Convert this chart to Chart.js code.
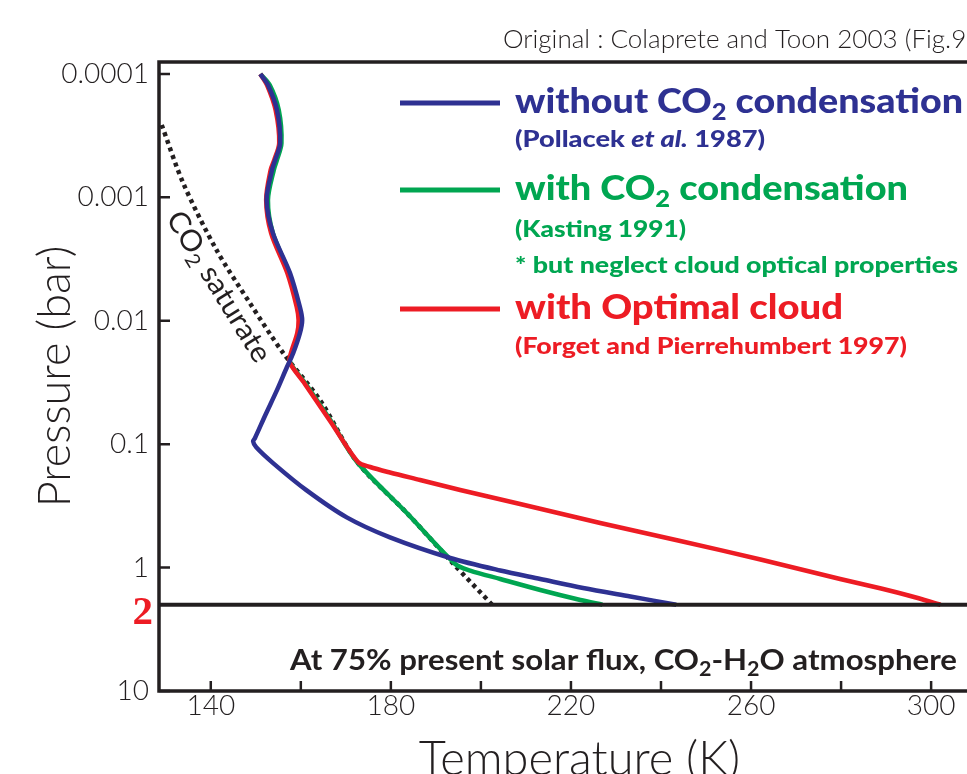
<!DOCTYPE html>
<html>
<head>
<meta charset="utf-8">
<script src="https://cdn.jsdelivr.net/npm/chart.js@4.4.1/dist/chart.umd.min.js"></script>
<style>
html, body { margin:0; padding:0; background:#fff; overflow:hidden; }
#myChartContainer { width:1000px; height:800px; }
</style>
</head>
<body>
<div id="myChartContainer"><canvas id="myChart" width="1000" height="800"></canvas></div>
<script>
// temperature (K) and pressure (bar)
var noCondT = [151.0,152.7,154.7,155.4,154.3,153.6,152.4,153.8,157.6,159.8,160.3,159.8,158.3,156.9,154.7,152.1,149.8,149.4,150.1,153.9,161.3,170.2,179.8,193.2,204.3,213.2,222.7,233.2,243.4];
var noCondP = [1e-4,1.23e-4,1.96e-4,3.63e-4,4.98e-4,6.0e-4,1.05e-3,1.95e-3,4.11e-3,7.76e-3,9.9e-3,0.0126,0.0183,0.0238,0.0365,0.0583,0.0895,0.0946,0.106,0.143,0.237,0.392,0.569,0.836,1.056,1.237,1.463,1.715,2.0];

var condT = [151.0,153.1,155.1,155.7,154.7,154.0,152.7,153.8,157.4,159.5,159.9,159.5,158.0,157.6,161.1,166.7,172.5,183.6,194.3,197.6,204.3,213.2,222.1,227.0];
var condP = [1e-4,1.23e-4,1.96e-4,3.63e-4,4.98e-4,6.0e-4,1.05e-3,1.95e-3,4.11e-3,7.76e-3,9.9e-3,0.0126,0.0183,0.0217,0.0325,0.0649,0.1395,0.363,0.935,1.056,1.237,1.519,1.831,2.0];

var cloudT = [151.0,152.5,154.4,155.2,154.1,153.3,152.3,153.4,157.0,159.1,159.5,159.2,157.8,157.5,160.9,166.5,172.7,175.4,179.8,186.5,195.4,208.7,226.5,244.3,262.1,279.8,288.9,295.4,302.1];
var cloudP = [1e-4,1.23e-4,1.96e-4,3.63e-4,4.98e-4,6.0e-4,1.05e-3,1.95e-3,4.11e-3,7.76e-3,9.9e-3,0.0126,0.0183,0.0217,0.0325,0.0649,0.1395,0.1531,0.1696,0.1951,0.2350,0.3053,0.4351,0.6090,0.8600,1.237,1.477,1.699,2.0];

var satT = [129.1,133.9,141.3,148.7,156.1,164.3,172.5,183.6,193.8,202.5];
var satP = [2.59e-4,7.7e-4,2.68e-3,7.2e-3,0.0183,0.0441,0.1395,0.363,0.925,2.0];

var xTicks = [140,160,180,200,220,240,260,280,300];
var xTickLabels = ['140','','180','','220','','260','','300'];
var yTicks = [0.0001,0.001,0.01,0.1,1,10];
var yTickLabels = ['0.0001','0.001','0.01','0.1','1','10'];
var surfaceP = 2;

var ink = '#231f20';

function pts(t, p) {
    return t.map(function(v, i){ return {x: v, y: p[i]}; });
}

// draws text with a subscript for ₂ and |...| as italic, squeezed to a given width
function richText(ctx, str, x, y, o) {
    var segs = [], it = false, buf = '';
    for (var ch of str) {
        if (ch === '|') { if (buf) segs.push({t:buf, it:it}); buf = ''; it = !it; }
        else if (ch === '₂') { if (buf) segs.push({t:buf, it:it}); buf = ''; segs.push({t:'2', it:it, sub:true}); }
        else buf += ch;
    }
    if (buf) segs.push({t:buf, it:it});
    function font(s) {
        return (s.it ? 'italic ' : '') + o.weight + ' ' + (s.sub ? Math.round(o.size * 0.68) : o.size) + 'px ' + o.family;
    }
    var total = 0;
    segs.forEach(function(s){ ctx.font = font(s); s.w = ctx.measureText(s.t).width; total += s.w; });
    var sx = o.width ? o.width / total : 1;
    ctx.save();
    ctx.translate(x, y);
    if (o.rotate) ctx.rotate(o.rotate);
    ctx.scale(sx, 1);
    ctx.fillStyle = o.color;
    ctx.textAlign = 'left';
    ctx.textBaseline = 'alphabetic';
    var cx = o.center ? -total / 2 : 0;
    segs.forEach(function(s){
        ctx.font = font(s);
        ctx.fillText(s.t, cx, s.sub ? o.size * 0.2 : 0);
        cx += s.w;
    });
    ctx.restore();
}

var legendRows = [
    {ds: 0, y: 103, notes: [{t: '(Pollacek |et al.| 1987)', y: 147, w: 250}], w: 448},
    {ds: 2, y: 190, notes: [{t: '(Kasting 1991)', y: 237, w: 171}, {t: '* but neglect cloud optical properties', y: 273, w: 443}], w: 393},
    {ds: 1, y: 309, notes: [{t: '(Forget and Pierrehumbert 1997)', y: 354, w: 392}], w: 328}
];

var decor = {
    id: 'decor',
    afterDatasetsDraw: function(chart) {
        var ctx = chart.ctx, a = chart.chartArea;
        var xs = chart.scales.x, ys = chart.scales.y;
        ctx.save();
        ctx.strokeStyle = ink;
        ctx.lineCap = 'butt';

        // surface line at 2 bar
        var ySurf = ys.getPixelForValue(surfaceP);
        ctx.lineWidth = 4;
        ctx.beginPath(); ctx.moveTo(a.left, ySurf); ctx.lineTo(a.right, ySurf); ctx.stroke();

        // frame
        ctx.lineWidth = 3.5;
        ctx.beginPath();
        ctx.moveTo(a.right, a.top); ctx.lineTo(a.left, a.top);
        ctx.lineTo(a.left, a.bottom); ctx.lineTo(a.right, a.bottom);
        ctx.stroke();

        // inward ticks
        ctx.lineWidth = 2.5;
        ctx.beginPath();
        xTicks.forEach(function(v){
            var px = xs.getPixelForValue(v);
            ctx.moveTo(px, a.bottom); ctx.lineTo(px, a.bottom - 10);
        });
        yTicks.forEach(function(v){
            var py = ys.getPixelForValue(v);
            ctx.moveTo(a.left, py); ctx.lineTo(a.left + 11, py);
        });
        ctx.stroke();

        // red "2" on the pressure axis
        ctx.fillStyle = '#ed1c24';
        ctx.font = 'bold 41px "Liberation Serif"';
        ctx.textAlign = 'right';
        ctx.textBaseline = 'alphabetic';
        ctx.fillText('2', 153, ySurf + 19);

        // legend
        legendRows.forEach(function(r){
            var ds = chart.data.datasets[r.ds];
            ctx.strokeStyle = ds.borderColor;
            ctx.lineWidth = 5;
            ctx.beginPath(); ctx.moveTo(400, r.y); ctx.lineTo(500, r.y); ctx.stroke();
            richText(ctx, ds.label, 515, r.y + 10, {family: 'Lato', weight: 900, size: 34, color: ds.borderColor, width: r.w});
            r.notes.forEach(function(n){
                richText(ctx, n.t, 515, n.y, {family: 'Lato', weight: 900, size: 23, color: ds.borderColor, width: n.w});
            });
        });

        // saturation curve label
        richText(ctx, 'CO₂ saturate', 210.7, 291.7, {family: 'Lato', weight: 400, size: 29, color: ink, width: 172, center: true, rotate: 58.3 * Math.PI / 180});

        // note at the bottom
        richText(ctx, 'At 75% present solar flux, CO₂-H₂O atmosphere', 290, 670, {family: 'Lato', weight: 700, size: 29, color: ink, width: 667});

        // source
        richText(ctx, 'Original : Colaprete and Toon 2003 (Fig.9)', 503, 48, {family: 'Lato', weight: 300, size: 25, color: ink, width: 470});
        ctx.restore();
    }
};

document.addEventListener('DOMContentLoaded', function(){
    var data = {
        datasets: [{
            label: 'without CO₂ condensation',
            data: pts(noCondT, noCondP),
            borderColor: '#2e3192'
        }, {
            label: 'with Optimal cloud',
            data: pts(cloudT, cloudP),
            borderColor: '#ed1c24'
        }, {
            label: 'with CO₂ condensation',
            data: pts(condT, condP),
            borderColor: '#00a651'
        }, {
            label: 'CO₂ saturate',
            data: pts(satT, satP),
            borderColor: ink,
            borderDash: [4, 4],
            borderWidth: 4.5
        }]
    };
    data.datasets.forEach(function(d){
        d.showLine = true;
        d.pointRadius = 0;
        d.borderWidth = d.borderWidth || 4.5;
        d.tension = 0.3;
        d.fill = false;
    });

    var options = {
        responsive: false,
        animation: false,
        layout: { padding: { top: 62, left: 0, right: 0, bottom: 0 } },
        plugins: { legend: { display: false }, tooltip: { enabled: false } },
        scales: {
            x: {
                type: 'linear',
                min: 128.5,
                max: 315.3,
                afterBuildTicks: function(s){ s.ticks = xTicks.map(function(v){ return {value: v}; }); },
                afterFit: function(s){ s.height = 109; },
                grid: { display: false, drawTicks: false },
                border: { display: false },
                ticks: {
                    autoSkip: false, maxRotation: 0, padding: -2, color: ink,
                    font: { family: 'Lato', size: 28, weight: '300' },
                    callback: function(v, i){ return xTickLabels[i]; }
                },
                title: {
                    display: true, text: 'Temperature (K)', color: ink,
                    font: { family: 'Lato', size: 47, weight: '300' },
                    padding: { top: 0, bottom: 12 }
                }
            },
            y: {
                type: 'logarithmic',
                reverse: true,
                min: 8e-5,
                max: 10,
                afterBuildTicks: function(s){ s.ticks = yTicks.map(function(v){ return {value: v}; }); },
                afterFit: function(s){ s.width = 159; },
                grid: { display: false, drawTicks: false },
                border: { display: false },
                ticks: {
                    padding: 10, color: ink,
                    font: { family: 'Lato', size: 28, weight: '300' },
                    callback: function(v, i){ return yTickLabels[i]; }
                },
                title: {
                    display: true, text: 'Pressure (bar)', color: ink,
                    font: { family: 'Lato', size: 45, weight: '300' },
                    padding: { top: 28, bottom: 0 }
                }
            }
        }
    };

    var ctx = document.getElementById('myChart').getContext('2d');
    var myChart = new Chart(ctx, {
        type: 'scatter',
        data: data,
        options: options,
        plugins: [decor]
    });
});
</script>
</body>
</html>
